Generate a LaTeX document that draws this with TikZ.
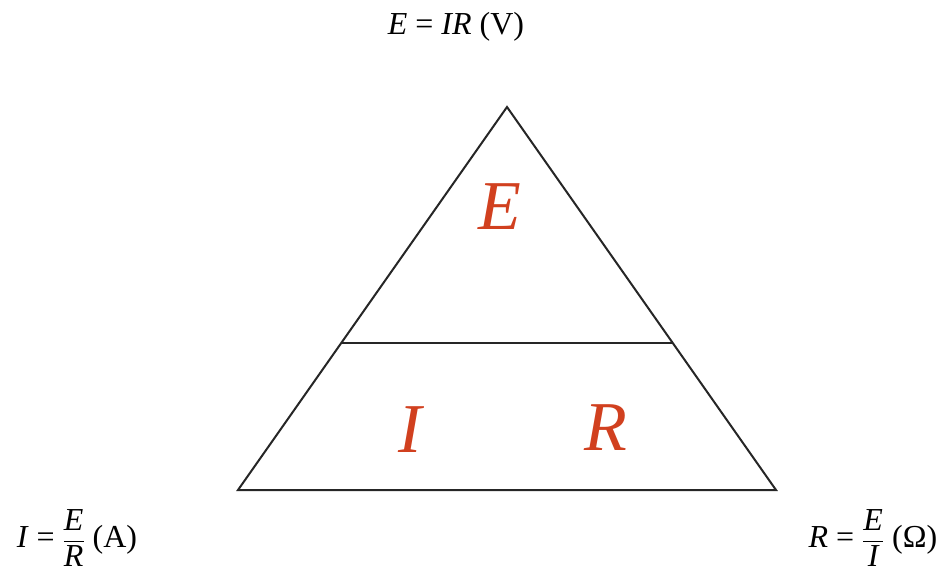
\documentclass[tikz,border=0pt]{standalone}
\usepackage{fontspec}
\usepackage{amsmath}
\setmainfont{Liberation Serif}
\definecolor{letter}{rgb}{0.82,0.25,0.12}
\begin{document}
\begin{tikzpicture}[x=1pt,y=-1pt,
  big/.style={text=letter,font=\fontsize{70}{76}\selectfont\itshape},
  eq/.style={text=black,font=\fontsize{32}{36}\selectfont},
  tri/.style={draw=black!85,line width=2pt,line join=miter}]
\useasboundingbox (0,0) rectangle (952,572);
\coordinate (A) at (507,107);
\coordinate (B) at (238,490);
\coordinate (C) at (776,490);
\coordinate (L) at (341,343);
\coordinate (M) at (673,343);
\draw[tri] (A) -- (B) -- (C) -- cycle;
\draw[tri] (L) -- (M);
\node[big] (e) at (500,207) {E};
\node[big] (i) at (410,430) {I};
\node[big] (r) at (606,428) {R};
\node[eq] (top) at (456,27) {\textit{E} = \textit{IR} (V)};
\node[eq] (left) at (77,538) {\textit{I} = $\dfrac{\hbox{\itshape E}}{\hbox{\itshape R}}$ (A)};
\node[eq] (right) at (873,538) {\textit{R} = $\dfrac{\hbox{\itshape E}}{\hbox{\itshape I}}$ (Ω)};
\end{tikzpicture}
\end{document}
